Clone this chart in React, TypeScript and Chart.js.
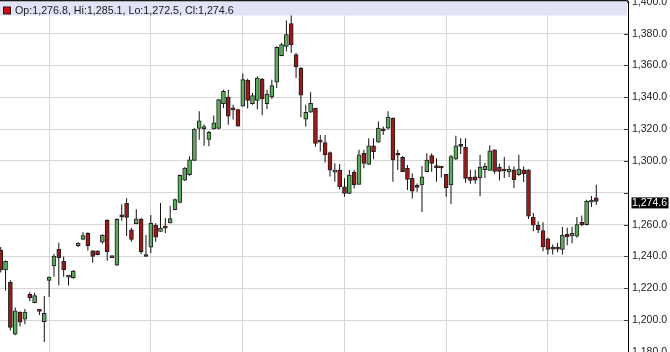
import React, { useEffect, useRef } from 'react';
import { Chart, registerables } from 'chart.js';

Chart.register(...registerables);

// Daily OHLC candles (index 0 = leftmost visible session)
const opens = [
  1244, 1231.5, 1223.7, 1191.2, 1205, 1200.6, 1216.3, 1211, 1205.8, 1199,
  1225, 1234, 1244.5, 1237, 1227.3, 1226.7, 1246.8, 1250.8, 1254.6, 1243.5,
  1243.5, 1249, 1262.9, 1239.7, 1234.5, 1265.2, 1273.4, 1256.7, 1260.6, 1263.4,
  1241, 1245.8, 1259.6, 1255.8, 1258.1, 1261.1, 1269.4, 1274, 1287.9, 1291.4,
  1300.4, 1320.5, 1320.3, 1313.6, 1320.1, 1320.5, 1336, 1340.2, 1332.5, 1332.3,
  1334.4, 1350.7, 1336, 1338.1, 1351.5, 1336, 1340.2, 1349.5, 1366.2, 1372,
  1386.3, 1366.8, 1358.4, 1326.3, 1330.6, 1333.1, 1312.8, 1311.5, 1305.2, 1293,
  1294.3, 1283.8, 1279.6, 1293.1, 1285.3, 1304.8, 1297.9, 1309.5, 1311.8, 1319.4,
  1320.6, 1327, 1303.9, 1302.3, 1295.4, 1289.1, 1284.2, 1284.9, 1293.3, 1303.4,
  1296.2, 1296.2, 1291.6, 1284.9, 1301.1, 1309.7, 1308.6, 1289.9, 1290, 1289.3,
  1294.5, 1294.1, 1307, 1296.2, 1294, 1293.1, 1294.5, 1291.4, 1294.5, 1294.5,
  1264.6, 1259.6, 1256.3, 1251.1, 1244.9, 1244.9, 1244.4, 1253.9, 1252.9, 1252.7,
  1261.5, 1260, 1274.2, 1276.8,
];
const highs = [
  1246, 1237.5, 1225, 1208, 1205.5, 1207, 1217.5, 1217.3, 1206, 1215.2,
  1227.5, 1241.5, 1248.7, 1240, 1227.5, 1231.5, 1249, 1255.3, 1255.3, 1244,
  1243.8, 1254, 1263.4, 1239.8, 1264, 1272.8, 1276.6, 1258.1, 1269.7, 1264.4,
  1253.5, 1266.1, 1260.9, 1273.6, 1264.2, 1271.9, 1276.5, 1291.5, 1296, 1302.9,
  1320.5, 1331.2, 1323, 1318.8, 1328.5, 1339, 1344.8, 1344.8, 1335.4, 1332.8,
  1354.9, 1351.7, 1342.7, 1353.2, 1352.1, 1344.8, 1351.1, 1372, 1374.1, 1388.2,
  1391.9, 1367.9, 1359.1, 1335.3, 1343.1, 1333.5, 1316.3, 1316.3, 1305.9, 1298.5,
  1298.1, 1289.1, 1294.3, 1294.3, 1307, 1307, 1314.3, 1314.3, 1324.8, 1321.7,
  1331.2, 1327.3, 1307, 1303.2, 1297.5, 1292.2, 1285.9, 1296.8, 1304.8, 1304.8,
  1301.7, 1296.8, 1291.8, 1303.8, 1315.8, 1314.3, 1314.3, 1294.5, 1294.5, 1303.9,
  1298.7, 1309.8, 1307.2, 1298.3, 1302.5, 1297, 1296.6, 1303.9, 1296.6, 1294.8,
  1267.4, 1262.1, 1261.5, 1251.7, 1247.5, 1248.6, 1258.6, 1258, 1258.7, 1264.8,
  1265.7, 1275.7, 1278, 1285.1,
];
const lows = [
  1230, 1218.5, 1193.5, 1190.5, 1196, 1197.5, 1212, 1210.6, 1203.3, 1186.3,
  1214.5, 1227.3, 1221.7, 1227.3, 1221.7, 1226, 1246, 1250.5, 1243.7, 1236,
  1240.8, 1248, 1237.4, 1239.2, 1234, 1262.5, 1252.9, 1249.3, 1260.3, 1241.6,
  1239.8, 1242, 1249.3, 1255.5, 1254.8, 1260.8, 1269, 1273.5, 1287.5, 1290.8,
  1300, 1313.4, 1309.5, 1309.2, 1319.8, 1320, 1333.3, 1322.8, 1326, 1321.5,
  1334, 1332.9, 1335.4, 1332.3, 1328.7, 1332.7, 1339, 1345.9, 1365.8, 1368.9,
  1367.9, 1352.1, 1327.5, 1321.6, 1330.3, 1309, 1305.9, 1299, 1290.2, 1287,
  1282.1, 1277.5, 1279.3, 1282.7, 1285, 1295.4, 1297.6, 1301.1, 1311.5, 1316.4,
  1319.6, 1287, 1294.3, 1293, 1281.7, 1276.4, 1280.6, 1268, 1293, 1293.3,
  1287, 1289.7, 1277.5, 1272.9, 1300.8, 1304.4, 1286.3, 1285.7, 1285.7, 1277.8,
  1289.3, 1294, 1292, 1287.8, 1289.3, 1289.9, 1283, 1290.8, 1286.8, 1263.6,
  1255.9, 1254.8, 1243.3, 1241.2, 1241.2, 1242.7, 1241.2, 1247, 1248.3, 1251.7,
  1259, 1259.4, 1271.1, 1272.5,
];
const closes = [
  1231.5, 1237, 1195.5, 1205.9, 1198.7, 1205, 1214, 1215.4, 1205.5, 1204.3,
  1227, 1240.3, 1239.3, 1231.5, 1227, 1230.9, 1248.5, 1253.1, 1246.8, 1240,
  1241.2, 1253.5, 1243, 1239.3, 1263.4, 1264.9, 1264.6, 1250.8, 1263.6, 1243,
  1240, 1260.9, 1252.1, 1257.9, 1257.8, 1263.8, 1275.7, 1291, 1295.6, 1300.8,
  1320.1, 1325.3, 1320.9, 1318, 1323.9, 1338.5, 1343.8, 1328.1, 1332.1, 1321.8,
  1351.1, 1338.1, 1341.1, 1352.1, 1339, 1342.1, 1347.3, 1371.4, 1373.1, 1379.4,
  1373.1, 1359.1, 1341.3, 1330.6, 1336.2, 1311.1, 1311.8, 1303.8, 1294.3, 1294.3,
  1283.8, 1279.6, 1291.2, 1284.9, 1303.8, 1298.5, 1309.5, 1305.9, 1320.6, 1319,
  1327.6, 1300.6, 1303.6, 1293.3, 1288.4, 1281.1, 1283.4, 1290.1, 1300.6, 1298.5,
  1295.8, 1295.6, 1283.2, 1302.7, 1309.5, 1309.2, 1289.1, 1287.8, 1288, 1296.2,
  1296.6, 1306.4, 1293.5, 1293.5, 1293.7, 1294.9, 1288.2, 1294.9, 1291.8, 1265.3,
  1259.6, 1256.9, 1246, 1244.4, 1244.6, 1244.6, 1253.4, 1252.3, 1254.5, 1260,
  1259.8, 1274.7, 1274.7, 1274.6,
];
// sessions where a new month starts (vertical grid lines)
const monthStarts = [10, 31, 50, 71, 92, 113];
const yMin = 1180;
const yMax = 1400;
const yStep = 20;

const UP = '#5bad5b';
const DOWN = '#9a1a1a';
const OUTLINE = '#1e1e1e';
const GRID = '#d6d6d6';
const FONT = 'Liberation Sans, Arial, sans-serif';
const OFFSET = 20; // canvas is shifted up so edge labels are cut like the original

const fmt = (v: number) =>
  v.toLocaleString('en-US', { minimumFractionDigits: 1, maximumFractionDigits: 1 });

export default function App() {
  const ref = useRef<HTMLCanvasElement | null>(null);

  useEffect(() => {
    const canvas = ref.current;
    if (!canvas) return;
    const n = closes.length;
    const last = n - 1;

    const deco = {
      id: 'deco',
      afterDraw(chart: any) {
        const { ctx, chartArea, scales } = chart;
        const y = scales.y;
        ctx.save();
        // inner tick marks on the price axis
        ctx.strokeStyle = '#3a3a3a';
        ctx.lineWidth = 1;
        y.ticks.forEach((t: any) => {
          const py = Math.round(y.getPixelForValue(t.value)) + 0.5;
          ctx.beginPath();
          ctx.moveTo(chartArea.right - 4, py);
          ctx.lineTo(chartArea.right, py);
          ctx.stroke();
        });
        // header band
        ctx.fillStyle = '#1a1a1a';
        ctx.fillRect(0, OFFSET, chartArea.right, 1.5);
        ctx.fillStyle = '#e1e3f6';
        ctx.fillRect(0, OFFSET + 1.5, chartArea.right - 1, 14);
        // legend square
        ctx.fillStyle = '#cc1111';
        ctx.fillRect(3.5, OFFSET + 7, 7, 7);
        ctx.strokeStyle = '#3a1010';
        ctx.strokeRect(3.5, OFFSET + 7, 7, 7);
        ctx.fillStyle = '#1a1a1a';
        ctx.font = '10.7px ' + FONT;
        ctx.textBaseline = 'alphabetic';
        ctx.textAlign = 'left';
        ctx.fillText(
          'Op:' + fmt(opens[last]) + ', Hi:' + fmt(highs[last]) + ', Lo:' + fmt(lows[last]) + ', Cl:' + fmt(closes[last]),
          15,
          OFFSET + 14
        );
        // last price tag
        const py = y.getPixelForValue(closes[last]);
        ctx.fillStyle = '#000';
        ctx.fillRect(chartArea.right + 3.5, py - 4, 37, 11);
        ctx.fillStyle = '#fff';
        ctx.font = '10.5px ' + FONT;
        ctx.textBaseline = 'middle';
        ctx.fillText(fmt(closes[last]), chartArea.right + 4, py + 1.5);
        ctx.restore();
      },
    };

    const idx = closes.map((_, i) => i);
    const chart = new Chart(canvas, {
      type: 'bar',
      data: {
        datasets: [
          {
            label: 'body',
            data: idx.map((i) => ({ x: i, y: [opens[i], closes[i]] })) as any,
            backgroundColor: idx.map((i) => (closes[i] >= opens[i] ? UP : DOWN)),
            borderColor: OUTLINE,
            borderWidth: 1,
            borderSkipped: false,
            barThickness: 4,
            minBarLength: 2,
            grouped: false,
            order: 0,
          } as any,
          {
            label: 'wick',
            data: idx.map((i) => ({ x: i, y: [lows[i], highs[i]] })) as any,
            backgroundColor: '#111',
            borderWidth: 0,
            barThickness: 1,
            inflateAmount: 0,
            grouped: false,
            order: 1,
          } as any,
        ],
      },
      options: {
        animation: false,
        responsive: false,
        devicePixelRatio: 1,
        layout: { padding: { top: OFFSET + 1.8, bottom: OFFSET, left: 0, right: 0 } },
        plugins: { legend: { display: false }, tooltip: { enabled: false } },
        scales: {
          x: {
            type: 'linear',
            offset: false,
            min: -0.145,
            max: 129.55,
            ticks: { display: false },
            grid: { color: GRID, drawTicks: false, offset: false },
            border: { display: false },
            afterBuildTicks: (s: any) => {
              s.ticks = monthStarts.map((v) => ({ value: v }));
            },
            afterFit: (s: any) => {
              s.height = 0;
              s.paddingLeft = 0;
              s.paddingRight = 0;
            },
          },
          y: {
            position: 'right',
            min: yMin,
            max: yMax,
            ticks: {
              stepSize: yStep,
              padding: 4,
              color: '#222',
              font: { family: FONT, size: 10.5 },
              callback: (v: any) => (Math.abs(v - closes[last]) < 8 ? '' : fmt(Number(v))),
            },
            grid: { color: GRID, drawTicks: false },
            border: { display: true, color: '#000', width: 1 },
            afterFit: (s: any) => {
              s.width = 42;
              s.paddingTop = 0;
              s.paddingBottom = 0;
            },
          },
        },
      } as any,
      plugins: [deco],
    });
    return () => chart.destroy();
  }, []);

  return (
    <div
      style={{
        position: 'fixed',
        left: 0,
        top: 0,
        width: 670,
        height: 352,
        overflow: 'hidden',
        background: '#fff',
      }}
    >
      <canvas
        ref={ref}
        width={670}
        height={352 + 2 * OFFSET}
        style={{ position: 'absolute', left: 0, top: -OFFSET, width: 670, height: 352 + 2 * OFFSET }}
      />
    </div>
  );
}
